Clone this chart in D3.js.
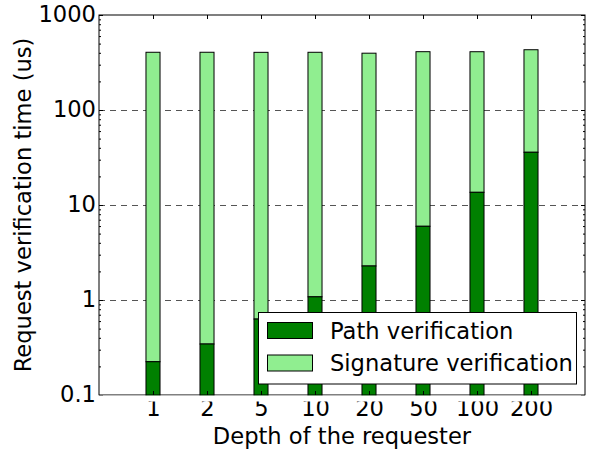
<!DOCTYPE html>
<html>
<head>
<meta charset="utf-8">
<script src="https://cdn.jsdelivr.net/npm/d3@7"></script>
<style>
  html, body { margin: 0; padding: 0; background: #fff; }
  svg { display: block; }
  text { font-family: "DejaVu Sans", sans-serif; fill: #000; }
</style>
</head>
<body>
<svg id="chart" width="595" height="453"></svg>
<script>
// ---- data ----
const categories = ["1", "2", "5", "10", "20", "50", "100", "200"];
const pathVerification = [0.224, 0.344, 0.63, 1.08, 2.28, 5.97, 13.6, 35.9];
const signatureVerification = [405, 405, 404, 404, 394, 405, 397, 395];
const seriesNames = ["Path verification", "Signature verification"];
const seriesColors = ["#008000", "#90EE90"];
const yTickValues = [0.1, 1, 10, 100, 1000];
const yTickLabels = ["0.1", "1", "10", "100", "1000"];

// ---- layout ----
const W = 595, H = 453;
const m = { left: 99, right: 10, top: 15, bottom: 58 };
const pw = W - m.left - m.right, ph = H - m.top - m.bottom;
const FS = 22.6;

const svg = d3.select("#chart");
const g = svg.append("g").attr("transform", `translate(${m.left},${m.top})`);

const x = d3.scaleLinear().domain([-1, categories.length]).range([0, pw]);
const y = d3.scaleLog().domain([0.1, 1000]).range([ph, 0]);
const barW = x(0.26) - x(0);

// grid
g.append("g").selectAll("line").data(yTickValues.slice(1, -1)).join("line")
  .attr("x1", 0).attr("x2", pw)
  .attr("y1", d => Math.round(y(d)) + 0.5).attr("y2", d => Math.round(y(d)) + 0.5)
  .attr("stroke", "#555").attr("stroke-width", 1).attr("stroke-dasharray", "6,5");

// stacked bars
const stacks = categories.map((c, i) => ({
  i, path: pathVerification[i], total: pathVerification[i] + signatureVerification[i]
}));
const bars = g.append("g");
bars.selectAll("rect.sig").data(stacks).join("rect").attr("class", "sig")
  .attr("x", d => x(d.i) - barW / 2).attr("width", barW)
  .attr("y", d => y(d.total)).attr("height", d => y(d.path) - y(d.total))
  .attr("fill", seriesColors[1]).attr("stroke", "#000").attr("stroke-width", 1);
bars.selectAll("rect.path").data(stacks).join("rect").attr("class", "path")
  .attr("x", d => x(d.i) - barW / 2).attr("width", barW)
  .attr("y", d => y(d.path)).attr("height", d => y(0.1) - y(d.path) + 2)
  .attr("fill", seriesColors[0]).attr("stroke", "#000").attr("stroke-width", 1);

// hide bar overflow below the plot
svg.append("rect").attr("x", m.left - 1).attr("y", m.top + ph + 0.5)
  .attr("width", pw + 2).attr("height", 6).attr("fill", "#fff");

// axes (inward ticks, classic style)
const minor = [];
for (let e = -1; e < 3; e++) for (let k = 2; k <= 9; k++) minor.push(k * Math.pow(10, e));

const yLeft = d3.axisLeft(y).tickValues(yTickValues).tickFormat((d, i) => yTickLabels[i])
  .tickSizeInner(-4).tickSizeOuter(0).tickPadding(3);
const gyl = g.append("g").call(yLeft);
gyl.selectAll(".tick text").attr("dy", "0.29em");
g.append("g").call(d3.axisLeft(y).tickValues(minor).tickFormat("").tickSizeInner(-2).tickSizeOuter(0));
g.append("g").attr("transform", `translate(${pw},0)`)
  .call(d3.axisRight(y).tickValues(yTickValues).tickFormat("").tickSizeInner(-4).tickSizeOuter(0));
g.append("g").attr("transform", `translate(${pw},0)`)
  .call(d3.axisRight(y).tickValues(minor).tickFormat("").tickSizeInner(-2).tickSizeOuter(0));

const xBottom = d3.axisBottom(x).tickValues(d3.range(categories.length))
  .tickFormat(i => categories[i]).tickSizeInner(-4).tickSizeOuter(0).tickPadding(5);
g.append("g").attr("transform", `translate(0,${ph})`).call(xBottom);
g.append("g").call(d3.axisTop(x).tickValues(d3.range(categories.length)).tickFormat("")
  .tickSizeInner(-4).tickSizeOuter(0));

g.selectAll(".domain").remove();
g.selectAll(".tick line").attr("stroke", "#000");
g.selectAll(".tick text").attr("font-size", FS).attr("font-family", "DejaVu Sans").attr("fill", "#000");

// frame
g.append("rect").attr("x", 0).attr("y", 0).attr("width", pw).attr("height", ph)
  .attr("fill", "none").attr("stroke", "#000").attr("stroke-width", 1);

// axis titles
svg.append("text").attr("x", m.left + pw / 2).attr("y", 444)
  .attr("text-anchor", "middle").attr("font-size", FS).text("Depth of the requester");
svg.append("text").attr("transform", `translate(31,${m.top + ph / 2}) rotate(-90)`)
  .attr("text-anchor", "middle").attr("font-size", FS).text("Request verification time (us)");

// legend
const lg = svg.append("g");
lg.append("rect").attr("x", 258.5).attr("y", 312.5).attr("width", 318).attr("height", 71.5)
  .attr("fill", "#fff").attr("stroke", "#000").attr("stroke-width", 1);
seriesNames.forEach((name, i) => {
  const yy = 322.5 + i * 32.5;
  lg.append("rect").attr("x", 267.5).attr("y", yy).attr("width", 45).attr("height", 16)
    .attr("fill", seriesColors[i]).attr("stroke", "#000").attr("stroke-width", 1);
  lg.append("text").attr("x", 330).attr("y", yy + 8).attr("dy", "0.36em")
    .attr("font-size", FS).text(name);
});
</script>
</body>
</html>
